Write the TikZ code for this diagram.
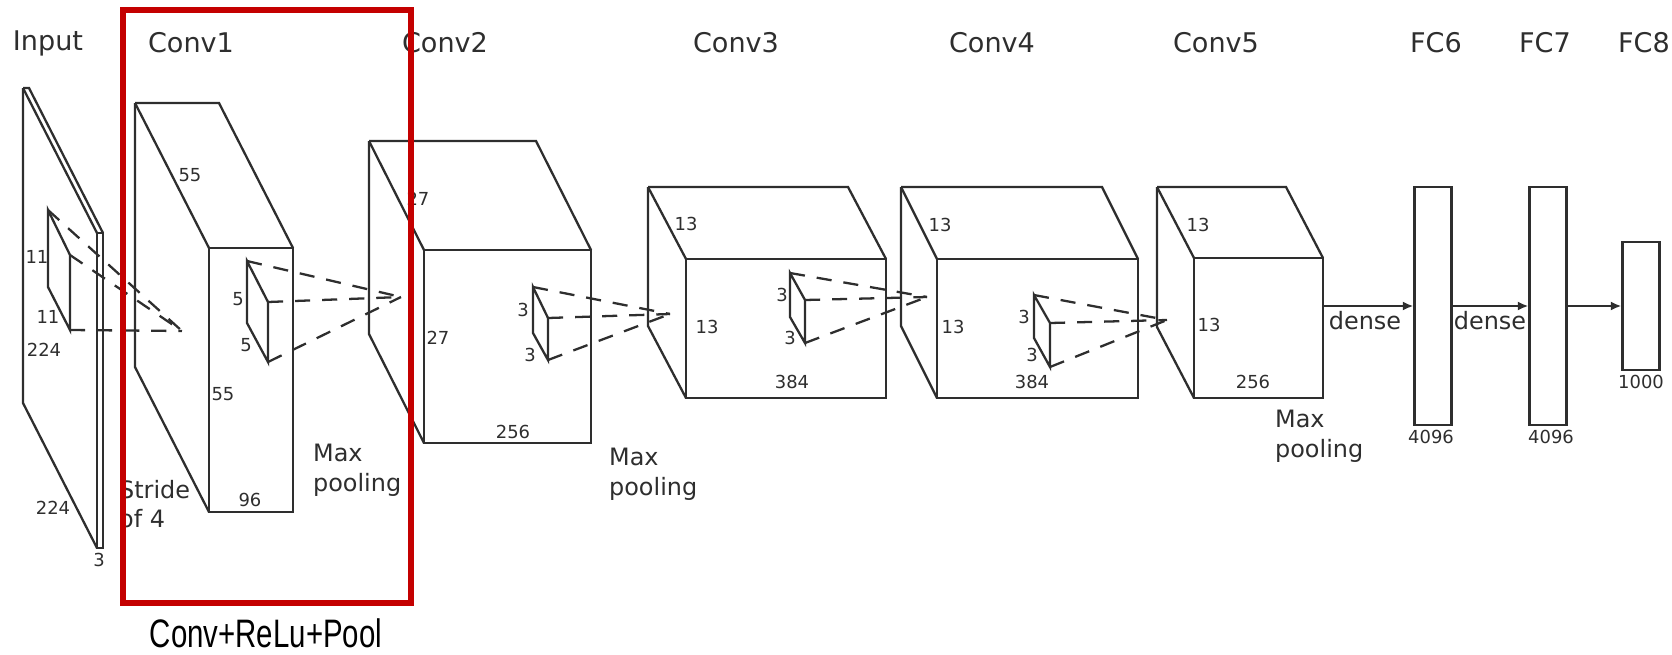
\documentclass[tikz,border=0pt]{standalone}
\usepackage{fontspec}
\setmainfont{DejaVu Sans}
\newfontfamily\capfont[FakeStretch=0.74]{Liberation Sans}
\usetikzlibrary{arrows.meta}
\definecolor{convred}{RGB}{196,0,0}

\begin{document}
\begin{tikzpicture}[x=0.01cm,y=-0.01cm,line width=0.65pt,color=black!82,
		dashline/.style={dash pattern=on 4.3pt off 3.4pt},
		num/.style={font=\fontsize{5.1}{6}\selectfont,inner sep=0pt},
		lbl/.style={font=\fontsize{6.8}{8.4}\selectfont,inner sep=0pt,align=left},
		ttl/.style={font=\fontsize{7.7}{9}\selectfont,inner sep=0pt},
		fclayer/.style={draw,inner sep=0pt,minimum width=0.37cm},
		redbox/.style={draw=convred,line width=1.45pt}]
			\useasboundingbox (0,0) rectangle (1672,654);
			% layer boxes: back corner, depth, front corner
			\foreach \n/\bx/\by/\dx/\dy/\fr/\fb in {in/23/88/74/145/103/548,c1/135/103/74/145/293/512,c2/369/141/55/109/591/443,c3/648/187/38/72/886/398,c4/901/187/36/72/1138/398,c5/1157/187/37/71/1323/398}{
				\coordinate (\n-b) at (\bx,\by);
				\coordinate (\n-br) at (\fr-\dx,\by);
				\coordinate (\n-f) at (\bx+\dx,\by+\dy);
				\coordinate (\n-fr) at (\fr,\by+\dy);
				\coordinate (\n-bb) at (\bx,\fb-\dy);
				\coordinate (\n-fb) at (\bx+\dx,\fb);
				\coordinate (\n-se) at (\fr,\fb);
				\draw (\n-f) rectangle (\n-se);
				\draw (\n-b) -- (\n-br) -- (\n-fr);
				\draw (\n-b) -- (\n-f);
				\draw (\n-b) -- (\n-bb) -- (\n-fb);
			}
			% kernels
			\foreach \k/\bx/\bt/\bb/\fx/\ft/\fbt in {k0/48/210/287/70/255/330,k1/247/261/323/268/302/362,k2/533/287/333/548/318/360,k3/790/273/317/805/300/343,k4/1034/295/338/1050/323/367}{
				\coordinate (\k-bt) at (\bx,\bt);
				\coordinate (\k-bb) at (\bx,\bb);
				\coordinate (\k-ft) at (\fx,\ft);
				\coordinate (\k-fb) at (\fx,\fbt);
				\draw (\k-bt) -- (\k-ft) -- (\k-fb) -- (\k-bb) -- cycle;
			}
			\coordinate (p1) at (182,331);
			\coordinate (p2) at (401,297);
			\coordinate (p3) at (670,314);
			\coordinate (p4) at (927,297);
			\coordinate (p5) at (1167,320);
			\foreach \k/\p in {k0/p1,k1/p2,k2/p3,k3/p4,k4/p5}{
				\draw[dashline] (\k-bt) -- (\p);
				\draw[dashline] (\k-ft) -- (\p);
				\draw[dashline] (\k-fb) -- (\p);
			}
			% fully connected
			\node[fclayer,minimum height=2.38cm] (fc6) at (1433,306) {};
			\node[fclayer,minimum height=2.38cm] (fc7) at (1548,306) {};
			\node[fclayer,minimum height=1.28cm] (fc8) at (1641,306) {};
			\coordinate (c5-out) at (1323,306);
			\draw[-{Latex[length=3pt,width=2.6pt]}] (c5-out) -- (fc6.west);
			\draw[-{Latex[length=3pt,width=2.6pt]}] (fc6.east) -- (fc7.west);
			\draw[-{Latex[length=3pt,width=2.6pt]}] (fc7.east) -- (fc8.west);
			\node[lbl] (dense1) at (1365,321) {dense};
			\node[lbl] (dense2) at (1490,321) {dense};
			% titles
			\node[ttl] (t-in) at (48,43) {Input};
			\node[ttl] (t-c1) at (191,43) {Conv1};
			\node[ttl] (t-c2) at (445,43) {Conv2};
			\node[ttl] (t-c3) at (736,43) {Conv3};
			\node[ttl] (t-c4) at (992,43) {Conv4};
			\node[ttl] (t-c5) at (1216,43) {Conv5};
			\node[ttl] (t-fc6) at (1436,43) {FC6};
			\node[ttl] (t-fc7) at (1545,43) {FC7};
			\node[ttl] (t-fc8) at (1644,43) {FC8};
			% sizes
			\node[num] (in-k1) at (37,257) {11};
			\node[num] (in-k2) at (48,317) {11};
			\node[num] (in-h) at (44,350) {224};
			\node[num] (in-w) at (53,508) {224};
			\node[num] (in-d) at (99,560) {3};
			\node[num] (c1-w) at (190,175) {55};
			\node[num] (c1-h) at (223,394) {55};
			\node[num] (c1-d) at (250,500) {96};
			\node[num] (k1-h) at (238,299) {5};
			\node[num] (k1-w) at (246,345) {5};
			\node[num] (c2-w) at (418,199) {27};
			\node[num] (c2-h) at (438,338) {27};
			\node[num] (c2-d) at (513,432) {256};
			\node[num] (k2-h) at (523,310) {3};
			\node[num] (k2-w) at (530,355) {3};
			\node[num] (c3-w) at (686,224) {13};
			\node[num] (c3-h) at (707,327) {13};
			\node[num] (c3-d) at (792,382) {384};
			\node[num] (k3-h) at (782,295) {3};
			\node[num] (k3-w) at (790,338) {3};
			\node[num] (c4-w) at (940,225) {13};
			\node[num] (c4-h) at (953,327) {13};
			\node[num] (c4-d) at (1032,382) {384};
			\node[num] (k4-h) at (1024,317) {3};
			\node[num] (k4-w) at (1032,355) {3};
			\node[num] (c5-w) at (1198,225) {13};
			\node[num] (c5-h) at (1209,325) {13};
			\node[num] (c5-d) at (1253,382) {256};
			\node[num] (fc6-n) at (1431,437) {4096};
			\node[num] (fc7-n) at (1551,437) {4096};
			\node[num] (fc8-n) at (1641,382) {1000};
			% notes
			\node[lbl,anchor=north west] (stride) at (118,479) {Stride\\of 4};
			\node[lbl,anchor=north west] (pool1) at (312,443) {Max\\pooling};
			\node[lbl,anchor=north west] (pool2) at (608,447) {Max\\pooling};
			\node[lbl,anchor=north west] (pool5) at (1274,409) {Max\\pooling};
			% highlighted stage
			\draw[redbox] (123,10) rectangle (411,603);
			\node[text=black,font=\capfont\fontsize{11.3}{13}\selectfont,inner sep=0pt,anchor=base] (stage) at (266,647) {Conv+ReLu+Pool};
		\end{tikzpicture}
\end{document}
